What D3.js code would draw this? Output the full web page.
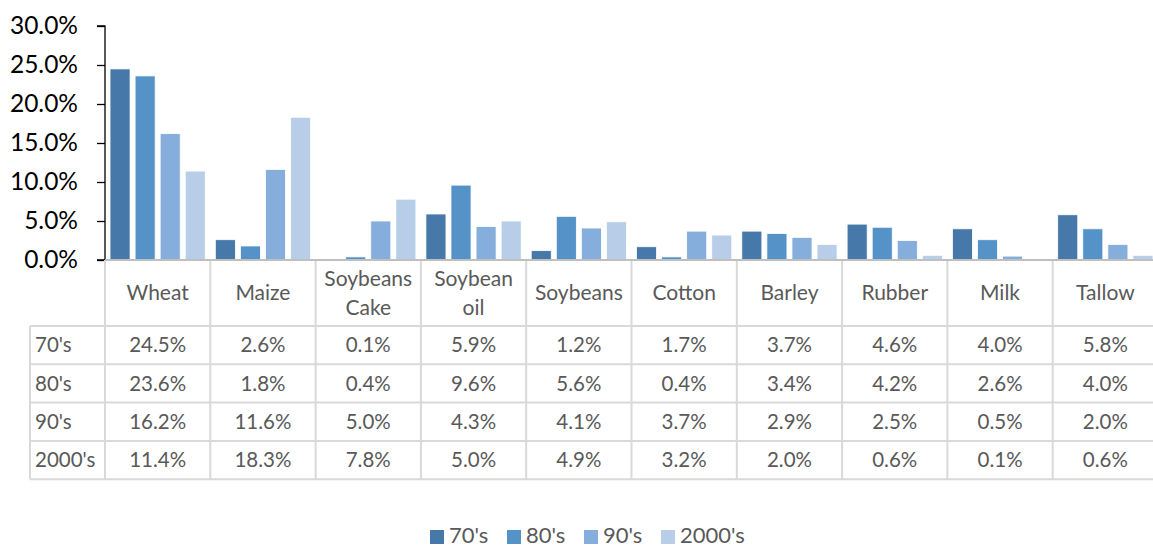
<!DOCTYPE html>
<html>
<head>
<meta charset="utf-8">
<script src="https://cdn.jsdelivr.net/npm/d3@7"></script>
<style>
  html, body { margin: 0; padding: 0; background: #fff; }
  svg { display: block; }
  text { font-family: Lato, "Open Sans", sans-serif; }
</style>
</head>
<body>
<svg id="chart" width="1153" height="548"></svg>
<script>
// Commodity names (header labels may wrap onto two lines)
const categories = ["Wheat", "Maize", "Soybeans Cake", "Soybean oil", "Soybeans", "Cotton", "Barley", "Rubber", "Milk", "Tallow"];
const categoryLines = [["Wheat"], ["Maize"], ["Soybeans", "Cake"], ["Soybean", "oil"], ["Soybeans"], ["Cotton"], ["Barley"], ["Rubber"], ["Milk"], ["Tallow"]];

// Decades shown as series
const decades = ["70's", "80's", "90's", "2000's"];

// Share values per decade (%)
const values70s   = [24.5, 2.6, 0.1, 5.9, 1.2, 1.7, 3.7, 4.6, 4.0, 5.8];
const values80s   = [23.6, 1.8, 0.4, 9.6, 5.6, 0.4, 3.4, 4.2, 2.6, 4.0];
const values90s   = [16.2, 11.6, 5.0, 4.3, 4.1, 3.7, 2.9, 2.5, 0.5, 2.0];
const values2000s = [11.4, 18.3, 7.8, 5.0, 4.9, 3.2, 2.0, 0.6, 0.1, 0.6];
const seriesValues = [values70s, values80s, values90s, values2000s];

// Y axis ticks
const yTicks = [0, 5, 10, 15, 20, 25, 30];

const colors = ["#4678A9", "#5592C8", "#86AEDC", "#B8CEE8"];

const svg = d3.select("#chart");

const plotLeft = 105, colW = 105.3;
const baseY = 260, topY = 26;
const tableLeft = 30;
const headerBottom = 326, rowH = 38.3;

const x0 = d3.scaleBand().domain(categories).range([plotLeft, plotLeft + colW * categories.length]).padding(0);
const x1 = d3.scaleBand().domain(decades).range([0, x0.bandwidth()]).padding(0.2);
const y = d3.scaleLinear().domain([0, 30]).range([baseY, topY]);

// Bars
decades.forEach((d, si) => {
  svg.append("g")
    .selectAll("rect")
    .data(categories.map((c, i) => ({ c, v: seriesValues[si][i] })))
    .join("rect")
    .attr("x", e => x0(e.c) + x1(d))
    .attr("y", e => y(e.v))
    .attr("width", x1.bandwidth())
    .attr("height", e => baseY - y(e.v))
    .attr("fill", colors[si])
    .attr("stroke", "#fff")
    .attr("stroke-width", 0.8);
});

// Y axis
const yAxis = d3.axisLeft(y).tickValues(yTicks).tickFormat(v => v.toFixed(1) + "%").tickSize(8).tickPadding(19);
const ya = svg.append("g").attr("transform", `translate(${plotLeft},0)`).call(yAxis);
ya.select(".domain").attr("stroke", "#000").attr("stroke-width", 1.3).attr("d", `M-8,${topY}H0V${baseY}H-8`);
ya.selectAll(".tick line").attr("stroke", "#000").attr("stroke-width", 1.3);
ya.selectAll(".tick text").attr("font-size", 24.5).attr("fill", "#000").attr("font-family", "Lato, 'Open Sans', sans-serif");

// Data table grid
const grid = svg.append("g").attr("stroke", "#d9d9d9").attr("stroke-width", 2);
const rightEdge = plotLeft + colW * categories.length;
const tableBottom = headerBottom + rowH * decades.length;
// horizontal lines
d3.range(decades.length + 1).forEach(k => {
  grid.append("line").attr("x1", tableLeft).attr("x2", rightEdge)
    .attr("y1", headerBottom + k * rowH).attr("y2", headerBottom + k * rowH);
});
// vertical lines at column boundaries
categories.forEach(c => {
  grid.append("line").attr("x1", x0(c)).attr("x2", x0(c)).attr("y1", baseY).attr("y2", tableBottom);
});
grid.append("line").attr("x1", tableLeft).attr("x2", tableLeft).attr("y1", headerBottom).attr("y2", tableBottom);

// Category axis line
svg.append("line").attr("x1", plotLeft).attr("x2", rightEdge).attr("y1", baseY).attr("y2", baseY)
  .attr("stroke", "#bfbfbf").attr("stroke-width", 2);

// Header labels
const header = svg.append("g").attr("fill", "#595959").attr("font-size", 21).attr("text-anchor", "middle");
categories.forEach((c, i) => {
  const lines = categoryLines[i];
  const cx = x0(c) + x0.bandwidth() / 2;
  const mid = (baseY + headerBottom) / 2;
  lines.forEach((ln, k) => {
    header.append("text").attr("x", cx)
      .attr("y", mid + (k - (lines.length - 1) / 2) * 29)
      .attr("dy", "0.35em").text(ln);
  });
});

// Table rows
const rows = svg.append("g").attr("fill", "#595959").attr("font-size", 20.5);
decades.forEach((d, si) => {
  const cy = headerBottom + rowH * si + rowH / 2;
  rows.append("text").attr("x", tableLeft + 5).attr("y", cy).attr("dy", "0.35em").text(d);
  categories.forEach((c, i) => {
    rows.append("text").attr("x", x0(c) + x0.bandwidth() / 2).attr("y", cy).attr("dy", "0.35em")
      .attr("text-anchor", "middle").text(seriesValues[si][i].toFixed(1) + "%");
  });
});

// Legend
const legendX = [430, 507, 584, 661];
const legend = svg.append("g");
decades.forEach((d, si) => {
  legend.append("rect").attr("x", legendX[si]).attr("y", 530).attr("width", 14).attr("height", 14).attr("fill", colors[si]);
  legend.append("text").attr("x", legendX[si] + 19).attr("y", 543)
    .attr("font-size", 22).attr("fill", "#595959").text(d);
});
</script>
</body>
</html>
